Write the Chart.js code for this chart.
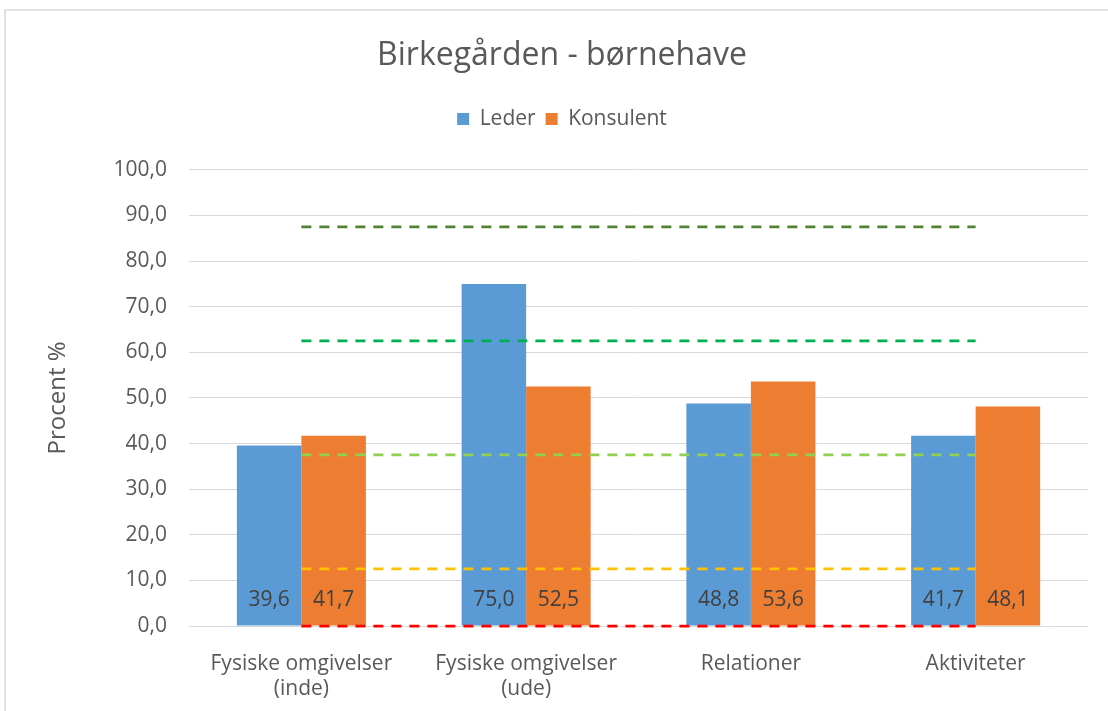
<!DOCTYPE html>
<html>
<head>
<meta charset="utf-8">
<script src="https://cdn.jsdelivr.net/npm/chart.js@4.4.1/dist/chart.umd.min.js"></script>
<style>
  html, body { margin: 0; padding: 0; background: #ffffff; }
  #wrap { width: 1108px; height: 711px; position: relative; }
</style>
</head>
<body>
<div id="wrap"><canvas id="c" width="1108" height="711"></canvas></div>
<script>
const categories = [["Fysiske omgivelser", "(inde)"], ["Fysiske omgivelser", "(ude)"], "Relationer", "Aktiviteter"];
const lederValues = [39.6, 75.0, 48.8, 41.7];
const konsulentValues = [41.7, 52.5, 53.6, 48.1];
const thresholdLevels = [87.5, 62.5, 37.5, 12.5, 0];
const yTickValues = [0, 10, 20, 30, 40, 50, 60, 70, 80, 90, 100];

const FONT = "'Open Sans', Lato, sans-serif";
const thresholdColors = ["#548235", "#00B050", "#92D050", "#FFC000", "#FF0000"];

function fmt(v) { return v.toFixed(1).replace('.', ','); }

const lineDatasets = thresholdLevels.map((lvl, i) => ({
  type: 'line',
  label: 'Niveau ' + fmt(lvl),
  data: categories.map(() => lvl),
  borderColor: thresholdColors[i],
  backgroundColor: thresholdColors[i],
  borderWidth: 2.75,
  borderDash: [10, 8],
  pointRadius: 0,
  pointHoverRadius: 0,
  fill: false,
  tension: 0,
  clip: false,
  order: 0
}));

const framePlugin = {
  id: 'frame',
  beforeDraw(chart) {
    const ctx = chart.ctx;
    ctx.save();
    ctx.fillStyle = '#ffffff';
    ctx.fillRect(0, 0, chart.width, chart.height);
    ctx.strokeStyle = '#d9d9d9';
    ctx.lineWidth = 1.5;
    ctx.beginPath();
    ctx.moveTo(5, chart.height);
    ctx.lineTo(5, 10);
    ctx.lineTo(chart.width, 10);
    ctx.stroke();
    ctx.restore();
  }
};

const valueLabelPlugin = {
  id: 'valueLabels',
  afterDatasetsDraw(chart) {
    const ctx = chart.ctx;
    ctx.save();
    ctx.font = "21px " + FONT;
    ctx.fillStyle = '#404040';
    ctx.textAlign = 'center';
    ctx.textBaseline = 'middle';
    chart.data.datasets.forEach((ds, di) => {
      if (ds.type !== 'bar') return;
      const meta = chart.getDatasetMeta(di);
      meta.data.forEach((bar, i) => {
        ctx.fillText(fmt(ds.data[i]), bar.x, bar.base - 25);
      });
    });
    ctx.restore();
  }
};

new Chart(document.getElementById('c'), {
  type: 'bar',
  data: {
    labels: categories,
    datasets: [
      {
        type: 'bar',
        label: 'Leder',
        data: lederValues,
        backgroundColor: '#5B9BD5',
        borderWidth: 0,
        categoryPercentage: 0.574,
        barPercentage: 1.0,
        order: 1
      },
      {
        type: 'bar',
        label: 'Konsulent',
        data: konsulentValues,
        backgroundColor: '#ED7D31',
        borderWidth: 0,
        categoryPercentage: 0.574,
        barPercentage: 1.0,
        order: 1
      },
      ...lineDatasets
    ]
  },
  options: {
    responsive: false,
    animation: false,
    devicePixelRatio: 1,
    layout: { padding: { top: 10, right: 20, bottom: 0, left: 36 } },
    plugins: {
      title: {
        display: true,
        text: 'Birkegården - børnehave',
        color: '#595959',
        font: { family: FONT, size: 32, weight: 'normal', lineHeight: 1.2 },
        padding: { top: 27, bottom: 23 }
      },
      subtitle: {
        display: true,
        text: ' ',
        weight: 500,
        color: 'rgba(0,0,0,0)',
        font: { family: FONT, size: 10, lineHeight: 1 },
        padding: { top: 20.5, bottom: 0 }
      },
      legend: {
        display: true,
        position: 'top',
        labels: {
          color: '#595959',
          font: { family: FONT, size: 21 },
          boxWidth: 12,
          boxHeight: 12,
          padding: 10,
          filter: (item) => item.datasetIndex < 2
        }
      },
      tooltip: { enabled: false }
    },
    scales: {
      x: {
        grid: { display: false },
        border: { display: false },
        ticks: {
          color: '#595959',
          font: { family: FONT, size: 21, lineHeight: 1.19 },
          padding: 18,
          maxRotation: 0,
          autoSkip: false
        },
        afterFit(scale) { scale.height = 85; }
      },
      y: {
        min: 0,
        max: 100,
        afterBuildTicks(scale) { scale.ticks = yTickValues.map(v => ({ value: v })); },
        grid: { color: '#d9d9d9', lineWidth: 1, drawTicks: false },
        border: { display: false },
        ticks: {
          color: '#595959',
          font: { family: FONT, size: 21 },
          padding: 22,
          callback: (v) => fmt(v)
        },
        title: {
          display: true,
          text: 'Procent %',
          color: '#595959',
          font: { family: FONT, size: 24, weight: 'normal' },
          padding: { top: 7.6, bottom: 0 }
        },
        afterFit(scale) { scale.width = 153; }
      }
    }
  },
  plugins: [framePlugin, valueLabelPlugin]
});
</script>
</body>
</html>
